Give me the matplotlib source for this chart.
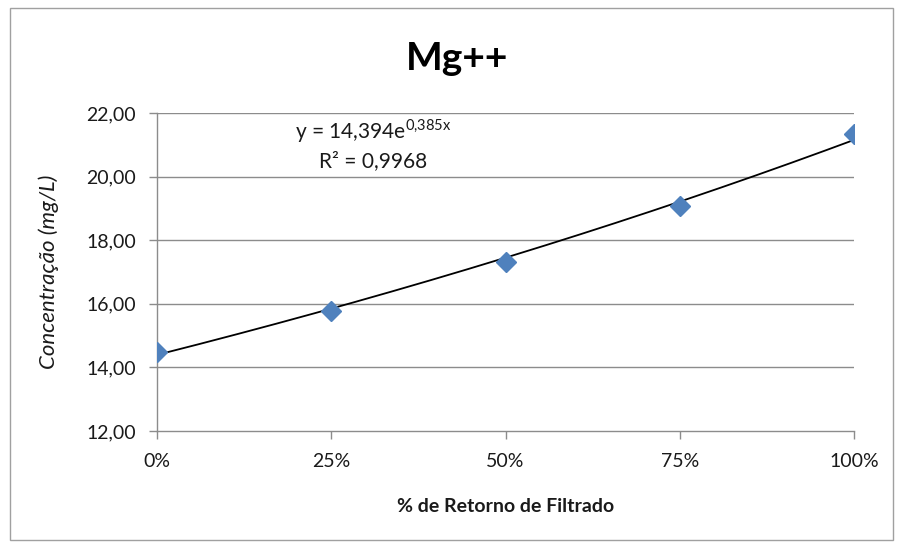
import numpy as np
import matplotlib
matplotlib.use("Agg")
from matplotlib import pyplot as plt
from matplotlib.patches import Rectangle
from matplotlib.ticker import FuncFormatter

# data
retorno = [0.0, 0.25, 0.50, 0.75, 1.00]
mg = [14.50, 15.78, 17.30, 19.06, 21.35]
# excel exponential trendline coefficients (shown on chart)
coef_a = 14.394
coef_b = 0.385
y_ticks = [12, 14, 16, 18, 20, 22]
x_ticks = [0.0, 0.25, 0.50, 0.75, 1.00]

plt.rcParams['font.family'] = ['Lato', 'DejaVu Sans']
plt.rcParams['mathtext.fontset'] = 'custom'
plt.rcParams['mathtext.rm'] = 'Lato'

fig = plt.figure(figsize=(9.01, 5.46), dpi=100)
fig.patch.set_facecolor('white')

# outer chart-area border
fig.patches.append(Rectangle((10 / 901, 1 - 540 / 546), 883 / 901, 532 / 546,
                             transform=fig.transFigure, fill=False,
                             edgecolor='#a0a0a0', linewidth=1.0))

ax = fig.add_axes([157 / 901, 1 - 431 / 546, 697 / 901, 318 / 546])

for yv in y_ticks[1:]:
    ax.axhline(yv, color='#8c8c8c', linewidth=1.0, zorder=1)

xs = np.linspace(0, 1, 200)
ax.plot(xs, coef_a * np.exp(coef_b * xs), color='black', linewidth=1.3, zorder=3)
ax.plot(retorno, mg, linestyle='none', marker='D', markersize=10,
        color='#4f81bd', markeredgecolor='#4f81bd', zorder=4)

ax.set_xlim(0, 1)
ax.set_ylim(12, 22)
ax.set_xticks(x_ticks)
ax.set_yticks(y_ticks)
ax.xaxis.set_major_formatter(FuncFormatter(lambda v, p: '%d%%' % round(v * 100)))
ax.yaxis.set_major_formatter(FuncFormatter(lambda v, p: ('%.2f' % v).replace('.', ',')))

for s in ['top', 'right']:
    ax.spines[s].set_visible(False)
for s in ['left', 'bottom']:
    ax.spines[s].set_color('#8c8c8c')
    ax.spines[s].set_linewidth(1.0)
ax.tick_params(axis='both', direction='out', length=6, width=1.0, color='#8c8c8c',
               labelsize=14, labelcolor='#1a1a1a')
ax.tick_params(axis='y', pad=9)
ax.tick_params(axis='x', pad=10)
for lbl in ax.get_xticklabels() + ax.get_yticklabels():
    lbl.set_clip_on(False)

ax.set_xlabel('% de Retorno de Filtrado', fontsize=14, fontweight='bold',
              labelpad=20, color='#1a1a1a')
ax.set_ylabel('Concentração (mg/L)', fontsize=16, fontstyle='italic',
              labelpad=20, color='#1a1a1a')

fig.text(457 / 901, 1 - 58 / 546, 'Mg++', fontsize=28, fontweight='bold',
         ha='center', va='center', color='black')

ax.text(0.31, 21.42, r'y = 14,394e$^{\mathrm{0{,}385x}}$', fontsize=15, ha='center',
        va='center', color='#1a1a1a')
ax.text(0.31, 20.5, 'R² = 0,9968', fontsize=15, ha='center', va='center',
        color='#1a1a1a')

fig.savefig('out.png', dpi=100)
